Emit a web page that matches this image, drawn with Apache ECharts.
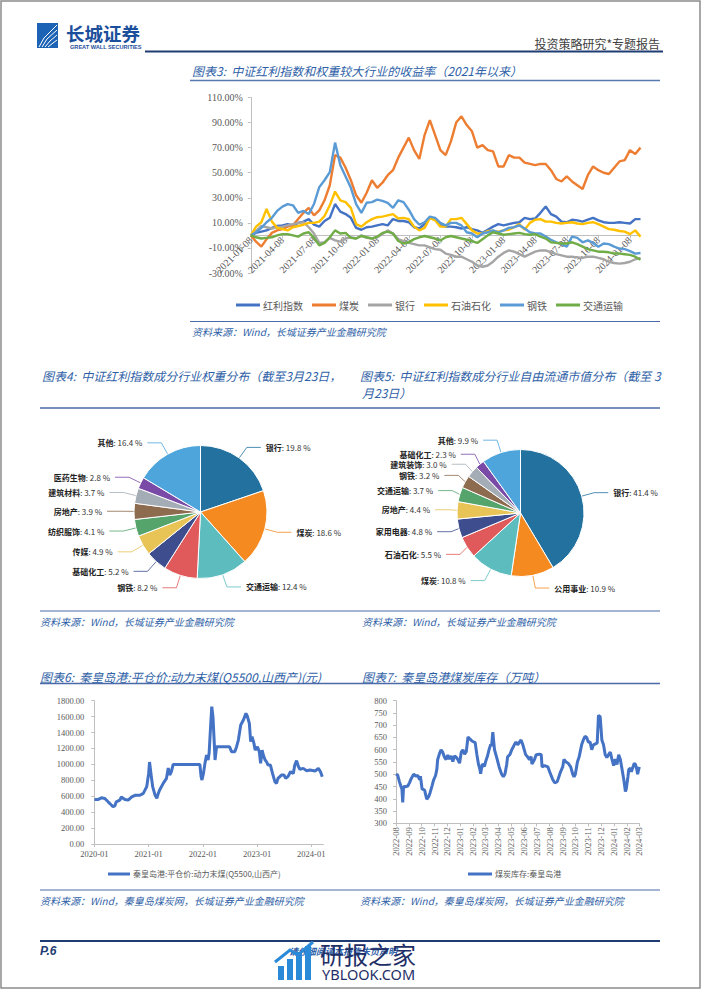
<!DOCTYPE html>
<html><head><meta charset="utf-8">
<script src="https://cdn.jsdelivr.net/npm/echarts@6/dist/echarts.min.js"></script>
<style>html,body{margin:0;padding:0;background:#fff;}#c{width:702px;height:991px;}</style>
</head><body><div id="c"></div>
<script>
// ---------- Figure 3 data (收益率 %, semi-monthly samples) ----------
const fig3Names = ['红利指数','煤炭','银行','石油石化','钢铁','交通运输'];
const fig3Colors = ['#4472C4','#ED7D31','#A5A5A5','#FFC000','#5B9BD5','#70AD47'];
const fig3Dates = [];
for (let y = 2021; y <= 2024; y++) for (let m = 1; m <= 12; m++) for (const d of ['08','23']) {
  const s = y + '-' + String(m).padStart(2,'0') + '-' + d; if (s <= '2024-02-08') fig3Dates.push(s);
}
const hongli = [0,2,3,4,6,7.5,8,9,8,10, 11,13,8.5,7,11.5,14,25,19,17,14, 6,4.5,6.5,7,8,9,8,13,11.5,11.5, 10.5,6.5,5.5,9,14,13,8,7,7,6.5, 5.5,6.5,5,4,2,4.5,7,9,8,9, 10,10.5,14,13,13.5,18,23,17,15,11, 10.5,12.5,12,11,12.5,14,12,10.5,10,10, 10.5,10,9.5,13,13];
const meitan = [0,-5,-9,-3,2,4,5,7,8,13, 18,22,16,20,28,40,64,62,54,44, 32,26,34,44,38,42,48,52,62,70, 78,68,61,80,92,80,68,64,75,90, 95,88,83,70,72,68,67,55,55,64, 62,62,58,57,56,57,57,52,45,43, 47,43,40,37,48,55,52,50,49,54, 59,60,68,65,70];
const yinhang = [0,3.5,7.5,6.5,5.5,6.5,7,8,9,10, 10.5,6.5,1.5,-6,-5.5,-2,-4,-5,-2.5,-1.5, -2.5,0,-2,-2.5,-1.5,1,4,1.5,-3,-4.5, -6,-7,-8,-8,-9.5,-11,-11.5,-14.5,-15.5,-17, -17,-19,-21,-24,-25,-24,-21,-17,-14,-12, -13,-15,-17,-15,-13,-12,-12,-13.5,-15,-16, -17,-17,-17.5,-18,-17,-17,-18,-19,-21,-22, -22.5,-22,-21,-19,-18];
const shiyou = [0,7,10.5,21,11,6,5,4,6.5,7.5, 8.5,10,10,11,15.5,24,35,28,26.5,22, 9,7,10.5,13,14.5,15,16,17,13.5,14, 13,7,4,6,14,12,7,7,13,13, 14,9,4,1.5,1.5,3.5,3.5,3,4,4.5, 6.5,9,4.5,10,12.5,13,11,11,10,9.5, 10,10.5,9.5,9,10,10.5,9,7,5,4.5, 3.5,3,1,4,-1];
const gangtie = [0,2.5,6,10.5,14,19.5,23,25,24,18, 19.5,17,25,38.5,44,50.5,74,56,47,38, 25,18,26,26.5,28.5,27.5,26,22,28,26.5, 20.5,13,8.5,10.5,15,14,10,8,10,10, 8,2.5,1.5,-1.5,1.5,2.5,4,2.5,4,6, 6.5,8,5.5,2.5,1.5,1.5,-1,-3.5,-5.5,-7, -9,-1,-2,-5.5,-4,-6,-9,-6.5,-7,-9, -10.5,-11,-12.5,-14.5,-14];
const jiaotong = [0,-1.5,-2.5,-2,-1.5,0,1,1,0,-1, 1.5,2.5,-2,-8,-6,-1.5,4,1.5,2,-2, -2.5,-0.5,-1.5,-2.5,-1,2,3,1.5,-4.5,-6.5, -5.5,-3,-1.5,-0.5,-1.5,-2.5,-4,-1.5,-0.5,-1.5, -2.5,-3.5,-4.5,-6,-3,0,2.5,1.5,0.5,1, 1.5,2,1,0.5,1,-1,-2.5,-5.5,-6,-6.5, -6.5,-5.5,-7,-9,-11,-12,-13,-13,-13.5,-14.5, -14.5,-15,-15.5,-17,-19.5];
const fig3Series = [hongli, meitan, yinhang, shiyou, gangtie, jiaotong];

// ---------- Figure 4 / 5 data (%) ----------
const pieColors = ['#22719f','#f58a20','#5dbdbe','#e05a5b','#3e4d8d','#e8c355','#55a46c','#8d6b4f','#a4acb5','#7a4aa7','#4ea5dc'];
const w4Names = ['银行','煤炭','交通运输','钢铁','基础化工','传媒','纺织服饰','房地产','建筑材料','医药生物','其他'];
const w4Values = [19.8,18.6,12.4,8.2,5.2,4.9,4.1,3.9,3.7,2.8,16.4];
const f5Names = ['银行','公用事业','煤炭','石油石化','家用电器','房地产','交通运输','钢铁','建筑装饰','基础化工','其他'];
const f5Values = [41.4,10.9,10.8,5.5,4.8,4.4,3.7,3.2,3.0,2.3,9.9];

// ---------- Figure 6 data (元/吨) ----------
const priceName = '秦皇岛港:平仓价:动力末煤(Q5500,山西产)';
const priceDates = ['2020-01-02','2020-01-28','2020-02-18','2020-03-12','2020-04-03','2020-04-25','2020-05-06','2020-05-18','2020-05-28','2020-06-21','2020-07-01','2020-07-25','2020-08-16','2020-09-09','2020-10-01','2020-11-03','2020-11-26','2020-12-19','2021-01-01','2021-01-07','2021-01-16','2021-01-28','2021-02-13','2021-02-25','2021-03-07','2021-03-16','2021-04-09','2021-05-01','2021-05-13','2021-05-23','2021-06-03','2021-06-15','2021-12-12','2021-12-20','2021-12-26','2022-01-05','2022-01-15','2022-01-26','2022-02-05','2022-02-12','2022-02-22','2022-03-02','2022-03-10','2022-03-19','2022-03-24','2022-04-03','2022-06-30','2022-07-13','2022-08-04','2022-08-16','2022-08-28','2022-09-13','2022-10-01','2022-10-18','2022-10-27','2022-11-10','2022-11-19','2022-11-28','2022-12-11','2022-12-19','2023-01-03','2023-01-16','2023-01-25','2023-02-04','2023-02-12','2023-02-24','2023-03-05','2023-03-16','2023-04-01','2023-04-15','2023-05-01','2023-05-12','2023-05-22','2023-06-14','2023-07-01','2023-07-13','2023-07-29','2023-08-14','2023-09-02','2023-09-12','2023-09-24','2023-10-05','2023-10-16','2023-11-08','2023-12-01','2023-12-23','2024-01-27','2024-02-18','2024-03-03','2024-03-15'];
const priceValues = [560,560,580,572,530,490,468,478,530,552,590,560,552,592,612,612,636,720,887,1030,890,720,615,575,636,678,762,825,955,866,908,1000,1000,845,804,887,1013,1118,1055,1139,1473,1725,1600,1264,1055,1222,1222,1160,1160,1222,1306,1494,1557,1641,1608,1515,1285,1348,1264,1180,1222,1160,1013,1180,1118,1055,1034,992,992,887,783,762,825,866,866,825,850,908,887,992,1047,980,938,950,921,929,917,950,908,845];

// ---------- Figure 7 data (万吨) ----------
const stockName = '煤炭库存:秦皇岛港';
const stockDates = ['2022-08-01','2022-08-05','2022-08-09','2022-08-13','2022-08-15','2022-08-17','2022-08-19','2022-08-23','2022-08-29','2022-09-02','2022-09-06','2022-09-12','2022-09-18','2022-09-22','2022-09-26','2022-09-28','2022-10-02','2022-10-08','2022-10-10','2022-10-13','2022-10-18','2022-10-21','2022-10-26','2022-10-29','2022-11-03','2022-11-06','2022-11-08','2022-11-12','2022-11-16','2022-11-20','2022-11-24','2022-11-28','2022-12-02','2022-12-06','2022-12-10','2022-12-14','2022-12-18','2022-12-22','2022-12-26','2022-12-30','2023-01-03','2023-01-07','2023-01-11','2023-01-15','2023-01-19','2023-01-23','2023-01-27','2023-02-01','2023-02-05','2023-02-09','2023-02-13','2023-02-16','2023-02-18','2023-02-22','2023-02-27','2023-03-02','2023-03-06','2023-03-10','2023-03-14','2023-03-16','2023-03-19','2023-03-23','2023-03-28','2023-04-03','2023-04-09','2023-04-13','2023-04-17','2023-04-21','2023-04-23','2023-04-29','2023-05-03','2023-05-09','2023-05-13','2023-05-17','2023-05-21','2023-05-25','2023-05-29','2023-06-05','2023-06-10','2023-06-14','2023-06-18','2023-06-20','2023-06-26','2023-06-30','2023-07-08','2023-07-12','2023-07-14','2023-07-20','2023-07-28','2023-08-01','2023-08-08','2023-08-13','2023-08-19','2023-08-23','2023-08-27','2023-09-01','2023-09-04','2023-09-09','2023-09-14','2023-09-20','2023-09-25','2023-09-28','2023-10-01','2023-10-06','2023-10-10','2023-10-16','2023-10-20','2023-10-24','2023-10-28','2023-11-01','2023-11-05','2023-11-09','2023-11-13','2023-11-19','2023-11-22','2023-11-25','2023-11-29','2023-12-01','2023-12-03','2023-12-07','2023-12-11','2023-12-15','2023-12-19','2023-12-23','2023-12-27','2023-12-31','2024-01-04','2024-01-08','2024-01-12','2024-01-16','2024-01-20','2024-01-24','2024-01-28','2024-01-30','2024-02-03','2024-02-05','2024-02-09','2024-02-11','2024-02-15','2024-02-18','2024-02-21','2024-02-24','2024-02-26','2024-03-01'];
const stockValues = [500,497,470,449,440,385,450,449,452,465,482,500,492,495,478,492,440,435,420,398,410,425,455,475,495,520,560,582,600,590,570,560,578,562,575,552,575,570,560,545,590,600,582,592,652,645,638,632,630,582,540,522,502,542,532,552,572,600,622,615,672,600,570,530,500,490,502,540,570,582,600,620,632,620,630,640,622,580,570,560,572,542,560,580,582,580,530,535,530,510,480,465,470,490,510,530,560,550,545,530,500,490,500,550,570,620,640,655,650,630,632,600,620,625,628,740,735,690,640,620,580,568,580,590,562,535,562,540,580,560,520,480,430,440,490,520,525,510,530,545,540,520,500,530];

const zip = (a, b) => a.map((d, i) => [d, b[i]]);
const DAY = 24 * 3600 * 1000;
const blue = '#2f5fa7', navy = '#1f3c73';
const serif = '"Liberation Serif", "DejaVu Serif", serif';
const cjk = '"Noto Sans CJK SC", sans-serif';

function T(text, x, y, o) {
  o = o || {};
  return { type: 'text', x: x, y: y, z: 10, style: Object.assign({ text: text, fill: blue, fontSize: 12, fontFamily: cjk, fontStyle: 'italic', textAlign: 'left', textVerticalAlign: 'middle', verticalAlign: 'middle' }, o) };
}
function L(x1, y1, x2, y2, c, w) {
  return { type: 'line', z: 5, shape: { x1: x1, y1: y1, x2: x2, y2: y2 }, style: { stroke: c, lineWidth: w } };
}

const pieLabel = {
  formatter: p => '{n|' + p.name + '}: ' + p.value.toFixed(1) + ' %',
  fontSize: 8, color: '#333', fontFamily: cjk,
  rich: { n: { fontWeight: 'bold', fontSize: 8, color: '#222', fontFamily: cjk } }
};

const graphics = [
  { type: 'rect', z: 1, shape: { x: 1, y: 1, width: 699, height: 987 }, style: { fill: 'none', stroke: '#8c8c8c', lineWidth: 1.5 } },
  // logo
  { type: 'rect', z: 5, shape: { x: 37, y: 23, width: 21, height: 25 }, style: { fill: '#1d63b5' } },
  { type: 'polyline', z: 6, shape: { points: [[39, 47], [44, 38], [57, 25]] }, style: { stroke: '#fff', lineWidth: 1, fill: 'none' } },
  { type: 'polyline', z: 6, shape: { points: [[42, 47], [47, 39], [57, 30]] }, style: { stroke: '#fff', lineWidth: 1, fill: 'none' } },
  { type: 'polyline', z: 6, shape: { points: [[45, 47], [50, 41], [57, 35]] }, style: { stroke: '#fff', lineWidth: 1, fill: 'none' } },
  { type: 'polyline', z: 6, shape: { points: [[48, 47], [53, 43], [57, 40]] }, style: { stroke: '#fff', lineWidth: 1, fill: 'none' } },
  T('长城证券', 66, 32.5, { fill: '#1b4e9b', fontSize: 18.5, fontWeight: 'bold', fontStyle: 'normal', lineHeight: 19 }),
  T('GREAT WALL SECURITIES', 70, 46.8, { fill: '#1b4e9b', fontSize: 5.6, fontWeight: 'bold', fontStyle: 'normal', lineHeight: 6, fontFamily: '"Liberation Sans", sans-serif' }),
  T('投资策略研究*专题报告', 660, 43, { fill: '#404040', fontSize: 12, fontStyle: 'normal', textAlign: 'right' }),
  L(145, 51.5, 663, 51.5, navy, 2),
  // figure 3
  T('图表3:  中证红利指数和权重较大行业的收益率（2021年以来）', 192, 70),
  L(190, 80.5, 660, 80.5, '#5878b0', 1.5),
  L(190, 321.5, 660, 321.5, '#4a6aa8', 1.2),
  T('资料来源：Wind，长城证券产业金融研究院', 192, 331, { fontSize: 10 }),
  // figures 4 & 5
  T('图表4:  中证红利指数成分行业权重分布（截至3月23日，', 42, 375),
  T('图表5:  中证红利指数成分行业自由流通市值分布（截至 3', 360, 375),
  T('月23日）', 362, 392),
  L(40, 408, 660, 408, '#4a6aa8', 1.5),
  L(40, 611, 660, 611, '#4a6aa8', 1.2),
  T('资料来源：Wind，长城证券产业金融研究院', 40, 621, { fontSize: 10 }),
  T('资料来源：Wind，长城证券产业金融研究院', 362, 621, { fontSize: 10 }),
  // figures 6 & 7
  T('图表6:  秦皇岛港:平仓价:动力末煤(Q5500,山西产)(元)', 40, 676),
  T('图表7:  秦皇岛港煤炭库存（万吨）', 362, 676),
  L(40, 683.5, 660, 683.5, '#4a6aa8', 1.5),
  L(40, 890, 660, 890, '#4a6aa8', 1.2),
  T('资料来源：Wind，秦皇岛煤炭网，长城证券产业金融研究院', 40, 900, { fontSize: 10 }),
  T('资料来源：Wind，秦皇岛煤炭网，长城证券产业金融研究院', 360, 900, { fontSize: 10 }),
  // footer
  L(40, 941, 660, 941, navy, 2),
  T('P.6', 40, 951, { fill: navy, fontSize: 12, fontWeight: 'bold', fontFamily: '"Liberation Sans", sans-serif' }),
  T('请仔细阅读本报告末页声明', 289, 951, { fontSize: 9, fontWeight: 'bold' }),
  // watermark
  { type: 'rect', z: 20, shape: { x: 278, y: 966, width: 6, height: 14 }, style: { fill: '#2a8ad8' } },
  { type: 'rect', z: 20, shape: { x: 287, y: 959, width: 6, height: 21 }, style: { fill: '#2a8ad8' } },
  { type: 'rect', z: 20, shape: { x: 296, y: 952, width: 6, height: 28 }, style: { fill: '#2a8ad8' } },
  { type: 'rect', z: 20, shape: { x: 305, y: 946, width: 6, height: 34 }, style: { fill: '#2a8ad8' } },
  { type: 'polyline', z: 21, shape: { points: [[275, 962], [290, 950], [298, 955], [313, 942]] }, style: { stroke: '#2a8ad8', lineWidth: 3, fill: 'none' } },
  T('研报之家', 320, 953, { fill: '#1f2f66', fontSize: 24, fontStyle: 'normal' }),
  T('YBLOOK.COM', 322, 974, { fill: '#1f2f66', fontSize: 14.5, fontStyle: 'normal', fontFamily: '"Noto Sans", sans-serif' })
];
graphics.filter(g => g.type === 'text' && (g.style.text === '研报之家' || g.style.text === 'YBLOOK.COM')).forEach(g => g.z = 22);

const axisGray = '#bfbfbf', labelGray = '#595959';
// zero line of figure 3 sits at 110/140 of the plot height
const f3Top = 97.5, f3H = 175.5, f3Zero = f3H * 110 / 140;

const option = {
  animation: false,
  backgroundColor: '#fff',
  grid: [
    { left: 250.8, top: f3Top, width: 389.7, height: f3H },
    { left: 94.3, top: 700.7, width: 229, height: 143.3 },
    { left: 396, top: 700.7, width: 243.3, height: 122.6 },
    { left: 250.8, top: f3Top, width: 389.7, height: f3Zero }
  ],
  xAxis: [
    { gridIndex: 0, type: 'category', data: fig3Dates, boundaryGap: false, show: false },
    { gridIndex: 1, type: 'time', min: '2020-01-01', max: '2024-03-22', minInterval: 360 * DAY, maxInterval: 370 * DAY,
      axisLine: { lineStyle: { color: axisGray } }, axisTick: { show: true, length: 3, lineStyle: { color: axisGray } },
      axisLabel: { formatter: '{yyyy}-{MM}', fontSize: 8.5, fontFamily: serif, color: labelGray, margin: 5, fontWeight: 'normal' },
      splitLine: { show: false } },
    { gridIndex: 2, type: 'time', min: '2022-08-01', max: '2024-03-01', minInterval: 28 * DAY, maxInterval: 31 * DAY,
      axisLine: { lineStyle: { color: axisGray } }, axisTick: { show: true, length: 3, lineStyle: { color: axisGray } },
      axisLabel: { formatter: '{yyyy}-{MM}', rotate: 90, fontSize: 8.5, fontFamily: serif, color: labelGray, margin: 4, fontWeight: 'normal' },
      splitLine: { show: false } },
    { gridIndex: 3, type: 'category', data: fig3Dates, boundaryGap: false, position: 'bottom',
      axisLine: { onZero: false, lineStyle: { color: axisGray } },
      axisTick: { show: true, length: 3, interval: i => i % 6 === 0, lineStyle: { color: axisGray } },
      axisLabel: { interval: i => i % 6 === 0, rotate: 45, margin: 3, fontSize: 10, fontFamily: serif, color: labelGray },
      splitLine: { show: false } }
  ],
  yAxis: [
    { gridIndex: 0, type: 'value', min: -30, max: 110, interval: 20,
      axisLine: { show: true, lineStyle: { color: axisGray } }, axisTick: { show: true, length: 3, lineStyle: { color: axisGray } },
      axisLabel: { formatter: v => v.toFixed(2) + '%', fontSize: 10, fontFamily: serif, color: labelGray, margin: 8 },
      splitLine: { show: false } },
    { gridIndex: 1, type: 'value', min: 0, max: 1800, interval: 200,
      axisLine: { show: true, lineStyle: { color: axisGray } }, axisTick: { show: true, length: 3, lineStyle: { color: axisGray } },
      axisLabel: { formatter: v => v.toFixed(2), fontSize: 8.5, fontFamily: serif, color: labelGray, margin: 10 },
      splitLine: { show: false } },
    { gridIndex: 2, type: 'value', min: 300, max: 800, interval: 50,
      axisLine: { show: true, lineStyle: { color: axisGray } }, axisTick: { show: true, length: 3, lineStyle: { color: axisGray } },
      axisLabel: { fontSize: 8.5, fontFamily: serif, color: labelGray, margin: 9 },
      splitLine: { show: false } },
    { gridIndex: 3, type: 'value', min: 0, max: 1, show: false }
  ],
  legend: [
    { data: fig3Names, left: 231, top: 295, icon: 'rect', itemWidth: 24, itemHeight: 3, itemGap: 9, selectedMode: false,
      textStyle: { fontSize: 10, color: labelGray, fontFamily: cjk, padding: [0, 0, 0, -2] } },
    { data: [priceName], left: 103, top: 865, icon: 'rect', itemWidth: 22, itemHeight: 3, selectedMode: false,
      textStyle: { fontSize: 8, color: labelGray, fontFamily: cjk, padding: [0, 0, 0, -2] } },
    { data: [stockName], left: 463, top: 865, icon: 'rect', itemWidth: 24, itemHeight: 3, selectedMode: false,
      textStyle: { fontSize: 8, color: labelGray, fontFamily: cjk, padding: [0, 0, 0, -2] } }
  ],
  series: fig3Names.map((n, k) => ({
    name: n, type: 'line', xAxisIndex: 0, yAxisIndex: 0, data: fig3Series[k], showSymbol: false, symbol: 'none',
    color: fig3Colors[k], lineStyle: { width: 2.4, color: fig3Colors[k] }, z: 2 + k
  })).concat([
    { name: priceName, type: 'line', xAxisIndex: 1, yAxisIndex: 1, data: zip(priceDates, priceValues), showSymbol: false, symbol: 'none',
      color: '#4472C4', lineStyle: { width: 3, color: '#4472C4' } },
    { name: stockName, type: 'line', xAxisIndex: 2, yAxisIndex: 2, data: zip(stockDates, stockValues), showSymbol: false, symbol: 'none',
      color: '#4472C4', lineStyle: { width: 3, color: '#4472C4' } },
    { name: '权重分布', type: 'pie', center: [200.5, 512], radius: 66.5, startAngle: 90,
      data: w4Names.map((n, i) => ({ name: n, value: w4Values[i], itemStyle: { color: pieColors[i] } })),
      label: pieLabel, labelLine: { length: 13, length2: 14, lineStyle: { width: 0.8 } },
      itemStyle: { borderColor: '#fff', borderWidth: 1 } },
    { name: '自由流通市值分布', type: 'pie', center: [520.5, 513], radius: 63.5, startAngle: 90,
      data: f5Names.map((n, i) => ({ name: n, value: f5Values[i], itemStyle: { color: pieColors[i] } })),
      label: pieLabel, labelLine: { length: 13, length2: 14, lineStyle: { width: 0.8 } },
      itemStyle: { borderColor: '#fff', borderWidth: 1 } }
  ]),
  graphic: graphics
};

const chart = echarts.init(document.getElementById('c'), null, { renderer: 'svg', width: 702, height: 991 });
chart.setOption(option);
</script>
</body></html>
